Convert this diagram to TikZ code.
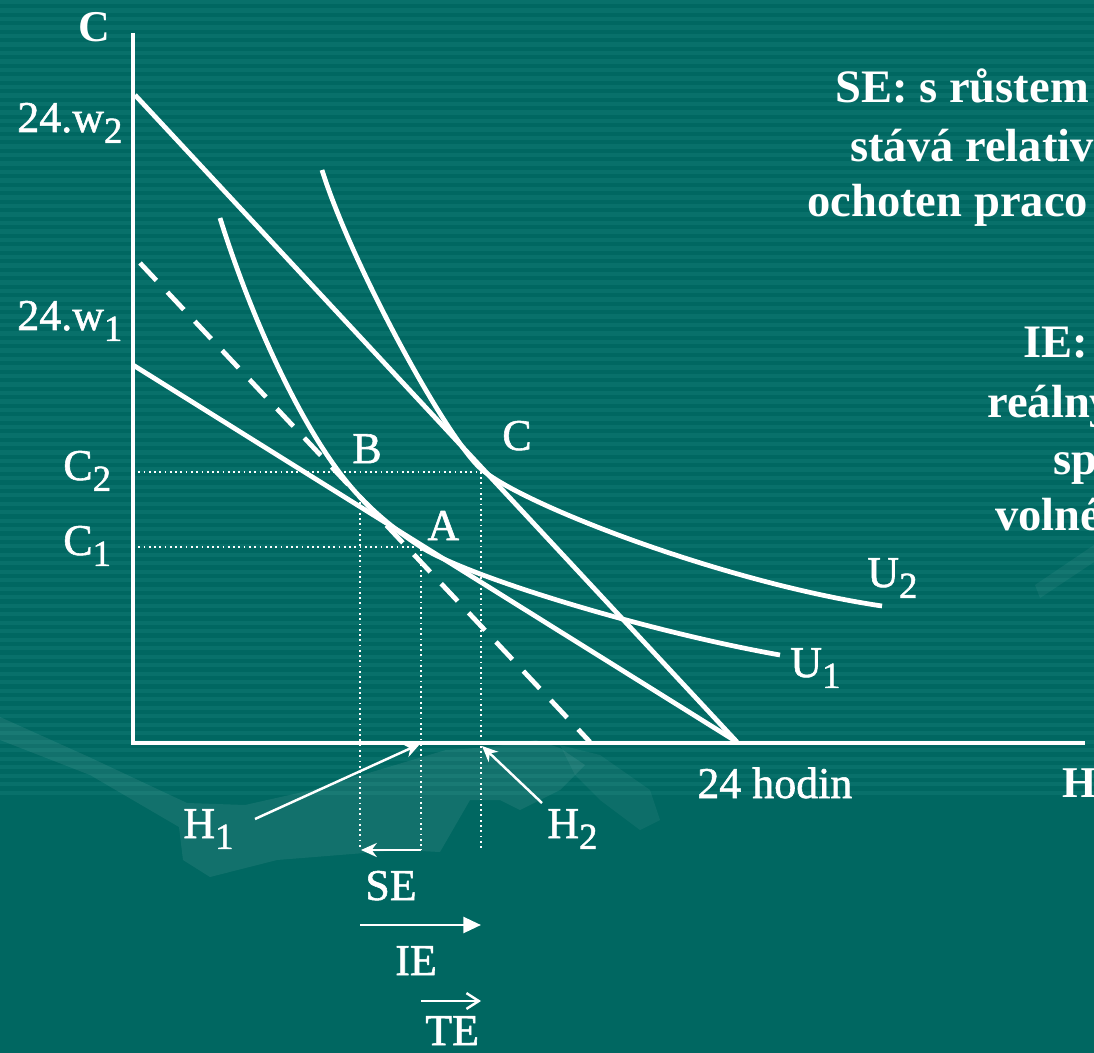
\documentclass[tikz,border=0pt]{standalone}
\usepackage{fontspec}
\setmainfont{Liberation Serif}
\newfontfamily\labfont{Liberation Serif}[RawFeature={embolden=1.3}]
\usetikzlibrary{arrows.meta}
\definecolor{SlideTeal}{RGB}{0,103,97}
\definecolor{StripeTeal}{RGB}{8,112,106}
\newcommand\lsub[1]{\raisebox{-0.25em}{\fontsize{21}{21}\selectfont #1}}
\tikzset{lab/.style={text=white,inner sep=0pt,anchor=base west,font=\fontsize{25}{30}\selectfont},
  axlab/.style={lab,font=\fontsize{25}{30}\selectfont\bfseries},
  note/.style={lab,font=\fontsize{26.5}{32}\selectfont\bfseries},
  curve/.style={draw=white,line width=2.7pt},
  guide/.style={draw=white,line width=1pt,dash pattern=on 1pt off 2pt},
  ptr/.style={draw=white,line width=1.4pt,-{Stealth[length=9pt,width=8pt]}}}

\begin{document}
\begin{tikzpicture}[x=0.02cm,y=-0.02cm]
\useasboundingbox (0,0) rectangle (1094,1053);
\clip (0,0) rectangle (1094,1053);
\fill[SlideTeal] (0,0) rectangle (1094,1053);
\foreach \i in {0,...,93} \fill[StripeTeal] (0,\i*8.5) rectangle (1094,\i*8.5+4.25);
\fill[white,opacity=0.07] (0,717) -- (89,757) -- (187,803) -- (245,805) -- (312,790) -- (402,763) -- (446,750) -- (491,747) -- (536,740) -- (560,748) -- (585,765) -- (560,790) -- (520,810) -- (500,800) -- (470,800) -- (440,852) -- (402,850) -- (277,860) -- (210,877) -- (183,860) -- (179,827) -- (90,775) -- (0,740) -- cycle;
\fill[white,opacity=0.05] (560,745) -- (600,755) -- (650,790) -- (660,820) -- (640,830) -- (600,800) -- (575,775) -- cycle;
\fill[white,opacity=0.05] (1035,585) -- (1094,545) -- (1094,562) -- (1040,598) -- cycle;

\coordinate (O) at (133,743);
\coordinate (ytop) at (133,33);
\coordinate (xend) at (1085,743);
\coordinate (w2) at (135,95);
\coordinate (w1) at (133,365);
\coordinate (t24) at (737,742);
\coordinate (dtop) at (140,263);
\coordinate (dend) at (590,742);
\coordinate (B) at (360,497);
\coordinate (A) at (421,547);
\coordinate (C) at (478,466);

\draw[guide] (133,472) -- (481,472) -- (481,850);
\draw[guide] (133,547) -- (421,547) -- (421,850);
\draw[guide] (360,497) -- (360,850);

\draw[white,line width=1.9pt] (ytop) -- (O) -- (xend);
\draw[curve] (w2) -- (t24);
\draw[curve] (w1) -- (t24);
\draw[curve,dash pattern=on 0.48cm off 0.32cm] (dtop) -- (dend);
\draw[curve] (220,218) .. controls (255,330) and (310,445) .. (B) .. controls (380,518) and (401,534) .. (A) .. controls (470,578) and (650,632) .. (780,655);
\draw[curve] (322,170) .. controls (350,260) and (440,427) .. (C) .. controls (510,500) and (720,582) .. (882,606);

\node[axlab] (axc) at (78,42) {C};
\node[lab] (lw2) at (17,132) {\labfont 24.w\lsub{2}};
\node[lab] (lw1) at (17,330) {\labfont 24.w\lsub{1}};
\node[lab] (lc2) at (63,480) {\labfont C\lsub{2}};
\node[lab] (lc1) at (63,555) {\labfont C\lsub{1}};
\node[lab] (lb) at (352,463) {\labfont B};
\node[lab] (la) at (427,540) {\labfont A};
\node[lab] (lc) at (502,450) {\labfont C};
\node[lab] (lu2) at (867,587) {\labfont U\lsub{2}};
\node[lab] (lu1) at (790,677) {\labfont U\lsub{1}};
\node[lab] (hodin) at (697,798) {\labfont 24 hodin};
\node[axlab] (axh) at (1062,797) {H};
\node[lab] (lh1) at (183,838) {\labfont H\lsub{1}};
\node[lab] (lh2) at (547,838) {\labfont H\lsub{2}};
\node[lab] (lse) at (365,900) {\labfont SE};
\node[lab] (lie) at (395,975) {\labfont IE};
\node[lab] (lte) at (425,1045) {\labfont TE};

\node[note] (n1) at (835,103) {SE: s růstem};
\node[note] (n2) at (850,162) {stává relativn};
\node[note] (n3) at (807,217) {ochoten praco};
\node[note] (n4) at (1023,358) {IE:};
\node[note] (n5) at (987,418) {reálny};
\node[note] (n6) at (1053,475) {sp};
\node[note] (n7) at (995,530) {volné};

\coordinate (h1tail) at (255,819);
\coordinate (h1pt) at (420,744);
\coordinate (h2tail) at (542,803);
\coordinate (h2pt) at (482,746);
\coordinate (seR) at (421,850);
\coordinate (seL) at (361,850);
\coordinate (ieL) at (360,925);
\coordinate (ieR) at (481,925);
\coordinate (teL) at (421,1001);
\coordinate (teR) at (481,1001);
\draw[ptr] (h1tail) -- (h1pt);
\draw[ptr] (h2tail) -- (h2pt);
\draw[ptr] (seR) -- (seL);
\draw[white,line width=1.6pt,-{Triangle[length=10pt,width=9pt]}] (ieL) -- (ieR);
\draw[white,line width=1.4pt,-{Straight Barb[length=7pt,width=9pt]}] (teL) -- (teR);
\end{tikzpicture}
\end{document}
